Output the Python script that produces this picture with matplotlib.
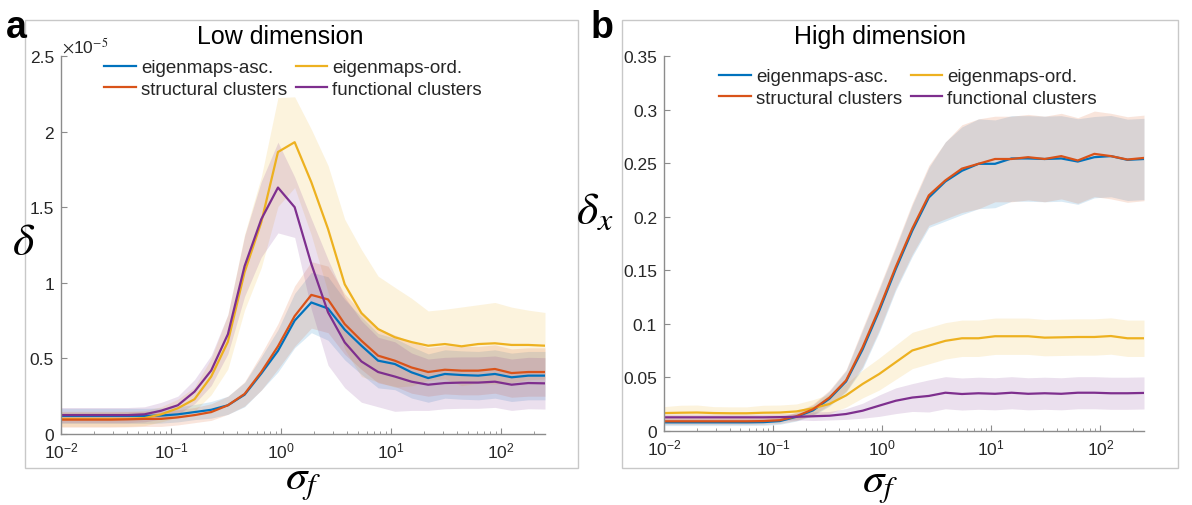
import matplotlib
matplotlib.use("Agg")
import matplotlib.pyplot as plt
from matplotlib.patches import Rectangle
from matplotlib.ticker import LogLocator, NullFormatter, FixedLocator

plt.rcParams['font.family'] = ['Liberation Sans', 'DejaVu Sans']
plt.rcParams['mathtext.fontset'] = 'stix'

# ---------------- data ----------------
sigma_f = [0.01, 0.01418, 0.02011, 0.02852, 0.04045, 0.05736, 0.08134, 0.11535,
           0.16358, 0.23198, 0.32898, 0.46654, 0.66161, 0.93843, 1.3309, 1.8874,
           2.6766, 3.7958, 5.3829, 7.6336, 10.826, 15.353, 21.772, 30.876,
           43.786, 62.094, 88.057, 124.88, 177.09, 251.19]

series_names = ['eigenmaps-asc.', 'eigenmaps-ord.', 'structural clusters', 'functional clusters']
series_colors = ['#0072BD', '#EDB120', '#D95319', '#7E2F8E']

# Panel a (Low dimension), values in units of 1e-5
low_scale_label = r'$\times$10$^{-5}$'
low_asc = [0.12, 0.12, 0.12, 0.12, 0.12, 0.12, 0.122, 0.13, 0.145, 0.16, 0.19, 0.26,
           0.40, 0.55, 0.75, 0.87, 0.83, 0.69, 0.584, 0.485, 0.463, 0.408, 0.37,
           0.397, 0.39, 0.386, 0.397, 0.375, 0.386, 0.386]
low_asc_sd = [0.05, 0.05, 0.05, 0.05, 0.05, 0.05, 0.05, 0.05, 0.05, 0.055, 0.06, 0.08,
              0.11, 0.14, 0.18, 0.20, 0.21, 0.20, 0.19, 0.18, 0.17, 0.17, 0.16,
              0.16, 0.16, 0.16, 0.16, 0.16, 0.16, 0.16]
low_ord = [0.10, 0.10, 0.10, 0.10, 0.10, 0.105, 0.13, 0.17, 0.23, 0.38, 0.61, 1.07,
           1.40, 1.865, 1.93, 1.665, 1.356, 0.99, 0.80, 0.694, 0.64, 0.608, 0.584,
           0.595, 0.58, 0.595, 0.60, 0.589, 0.589, 0.584]
low_ord_sd = [0.05, 0.05, 0.05, 0.05, 0.05, 0.05, 0.05, 0.06, 0.08, 0.12, 0.18, 0.25,
              0.30, 0.36, 0.30, 0.35, 0.42, 0.43, 0.42, 0.35, 0.33, 0.29, 0.23,
              0.23, 0.26, 0.26, 0.27, 0.25, 0.23, 0.22]
low_struct = [0.095, 0.095, 0.095, 0.095, 0.097, 0.10, 0.10, 0.11, 0.125, 0.145, 0.19,
              0.265, 0.41, 0.58, 0.78, 0.92, 0.89, 0.727, 0.617, 0.518, 0.485, 0.44,
              0.41, 0.425, 0.419, 0.419, 0.43, 0.403, 0.41, 0.41]
low_struct_sd = [0.05, 0.05, 0.05, 0.05, 0.05, 0.05, 0.05, 0.05, 0.05, 0.055, 0.06, 0.08,
                 0.12, 0.15, 0.20, 0.22, 0.22, 0.20, 0.19, 0.18, 0.17, 0.17, 0.16,
                 0.16, 0.16, 0.16, 0.16, 0.16, 0.16, 0.16]
low_func = [0.125, 0.125, 0.125, 0.125, 0.125, 0.13, 0.154, 0.19, 0.28, 0.42, 0.66, 1.11,
            1.42, 1.63, 1.50, 1.124, 0.805, 0.606, 0.48, 0.41, 0.38, 0.346, 0.326,
            0.337, 0.34, 0.34, 0.346, 0.326, 0.337, 0.335]
low_func_sd = [0.05, 0.05, 0.05, 0.05, 0.05, 0.05, 0.055, 0.06, 0.08, 0.10, 0.13, 0.20,
               0.25, 0.30, 0.20, 0.30, 0.35, 0.30, 0.27, 0.23, 0.23, 0.19, 0.17,
               0.17, 0.17, 0.17, 0.17, 0.17, 0.17, 0.17]

# Panel b (High dimension)
high_asc = [0.0078, 0.0078, 0.0078, 0.0078, 0.0078, 0.0078, 0.008, 0.009, 0.013, 0.019,
            0.030, 0.046, 0.076, 0.112, 0.151, 0.187, 0.218, 0.233, 0.243, 0.2495,
            0.2495, 0.2545, 0.2545, 0.254, 0.2545, 0.2516, 0.2557, 0.2567, 0.2532, 0.254]
high_asc_sd = [0.003, 0.003, 0.003, 0.003, 0.003, 0.003, 0.003, 0.003, 0.004, 0.005,
               0.007, 0.010, 0.018, 0.020, 0.020, 0.024, 0.028, 0.037, 0.041, 0.042,
               0.041, 0.040, 0.040, 0.040, 0.040, 0.040, 0.038, 0.038, 0.038, 0.038]
high_ord = [0.0165, 0.0168, 0.017, 0.0165, 0.0163, 0.0163, 0.0168, 0.017, 0.018, 0.021,
            0.025, 0.033, 0.0437, 0.053, 0.064, 0.075, 0.0795, 0.084, 0.0864, 0.0864,
            0.0883, 0.0883, 0.0883, 0.087, 0.0873, 0.0876, 0.0876, 0.0885, 0.0864, 0.0864]
high_ord_sd = [0.006, 0.007, 0.007, 0.006, 0.006, 0.006, 0.007, 0.007, 0.007, 0.008,
               0.009, 0.011, 0.013, 0.015, 0.016, 0.017, 0.017, 0.017, 0.017, 0.017,
               0.017, 0.017, 0.017, 0.017, 0.017, 0.017, 0.017, 0.017, 0.017, 0.017]
high_struct = [0.0088, 0.0088, 0.0088, 0.0088, 0.0088, 0.0088, 0.009, 0.0098, 0.0135, 0.020,
               0.031, 0.047, 0.078, 0.114, 0.153, 0.189, 0.220, 0.234, 0.245, 0.2495,
               0.254, 0.254, 0.2557, 0.254, 0.2567, 0.2526, 0.2588, 0.2567, 0.2535, 0.255]
high_struct_sd = [0.003, 0.003, 0.003, 0.003, 0.003, 0.003, 0.003, 0.003, 0.004, 0.005,
                  0.007, 0.010, 0.018, 0.020, 0.020, 0.024, 0.028, 0.036, 0.041, 0.042,
                  0.040, 0.040, 0.040, 0.040, 0.040, 0.040, 0.040, 0.040, 0.040, 0.040]
high_func = [0.0125, 0.0125, 0.0125, 0.0125, 0.0125, 0.0125, 0.0125, 0.0127, 0.013, 0.0135,
             0.014, 0.0156, 0.0187, 0.0234, 0.028, 0.031, 0.0325, 0.0355, 0.0343, 0.035,
             0.0345, 0.0355, 0.0345, 0.035, 0.0345, 0.0355, 0.0355, 0.035, 0.035, 0.0353]
high_func_sd = [0.003, 0.003, 0.003, 0.003, 0.003, 0.003, 0.003, 0.003, 0.003, 0.004,
                0.004, 0.005, 0.007, 0.010, 0.012, 0.013, 0.015, 0.015, 0.015, 0.015,
                0.015, 0.015, 0.015, 0.015, 0.015, 0.015, 0.015, 0.015, 0.015, 0.015]

low_yticks = [0, 0.5, 1, 1.5, 2, 2.5]
low_yticklabels = ['0', '0.5', '1', '1.5', '2', '2.5']
high_yticks = [0, 0.05, 0.1, 0.15, 0.2, 0.25, 0.3, 0.35]
high_yticklabels = ['0', '0.05', '0.1', '0.15', '0.2', '0.25', '0.3', '0.35']
xticks = [0.01, 0.1, 1, 10, 100]

# ---------------- figure ----------------
W, H = 1192, 506
fig = plt.figure(figsize=(W / 100, H / 100), dpi=100)

def fx(px):
    return px / W

def fy(py):
    return 1 - py / H

SPINE = '#8c8c8c'
TXT = '#262626'

def style_axes(ax, yticks, yticklabels, ymax):
    ax.set_xscale('log')
    ax.set_xlim(sigma_f[0], sigma_f[-1])
    ax.set_ylim(0, ymax)
    ax.set_yticks(yticks)
    ax.set_yticklabels(yticklabels)
    ax.xaxis.set_major_locator(FixedLocator(xticks))
    ax.xaxis.set_minor_locator(LogLocator(base=10, subs=range(2, 10), numticks=20))
    ax.xaxis.set_minor_formatter(NullFormatter())
    for s in ['top', 'right']:
        ax.spines[s].set_visible(False)
    for s in ['left', 'bottom']:
        ax.spines[s].set_color(SPINE)
        ax.spines[s].set_linewidth(1.0)
    ax.tick_params(which='major', direction='in', length=4, width=0.8, color=SPINE,
                   labelsize=12.5, labelcolor=TXT, pad=5)
    ax.tick_params(which='minor', direction='in', length=2.2, width=0.6, color=SPINE)
    ax.set_facecolor('none')

def draw_panel(ax, means, sds):
    handles = []
    for m, sd, c in zip(means, sds, series_colors):
        lo = [a - b for a, b in zip(m, sd)]
        hi = [a + b for a, b in zip(m, sd)]
        ax.fill_between(sigma_f, lo, hi, color=c, alpha=0.15, linewidth=0)
    for m, c, n in zip(means, series_colors, series_names):
        h, = ax.plot(sigma_f, m, color=c, lw=1.6, label=n)
        handles.append(h)
    return handles

LEG = dict(ncol=2, loc='upper left', frameon=False, fontsize=13.5, handlelength=1.7,
           handletextpad=0.27, columnspacing=0.45, labelspacing=0.25, borderpad=0,
           borderaxespad=0, labelcolor=TXT)

# panel frames
fig.add_artist(Rectangle((fx(25), fy(469)), fx(578) - fx(25), fy(21) - fy(469),
                         transform=fig.transFigure, fill=False, edgecolor='#c8c8c8', lw=1))
fig.add_artist(Rectangle((fx(622), fy(469)), fx(1178) - fx(622), fy(21) - fy(469),
                         transform=fig.transFigure, fill=False, edgecolor='#c8c8c8', lw=1))

order = [0, 2, 1, 3]

# ---- panel a ----
axa = fig.add_axes([fx(61), fy(435), fx(545) - fx(61), fy(57) - fy(435)])
ha = draw_panel(axa, [low_asc, low_ord, low_struct, low_func],
                [low_asc_sd, low_ord_sd, low_struct_sd, low_func_sd])
style_axes(axa, low_yticks, low_yticklabels, 2.5)
fig.legend([ha[i] for i in order], [series_names[i] for i in order],
           bbox_to_anchor=(fx(104), fy(60)), **LEG)

# ---- panel b ----
axb = fig.add_axes([fx(664), fy(431.7), fx(1144) - fx(664), fy(57.3) - fy(431.7)])
hb = draw_panel(axb, [high_asc, high_ord, high_struct, high_func],
                [high_asc_sd, high_ord_sd, high_struct_sd, high_func_sd])
style_axes(axb, high_yticks, high_yticklabels, 0.35)
fig.legend([hb[i] for i in order], [series_names[i] for i in order],
           bbox_to_anchor=(fx(719), fy(69)), **LEG)

# ---- texts ----
fig.text(fx(6), fy(28), 'a', fontsize=27, fontweight='bold', ha='left', va='center', color='black')
fig.text(fx(591), fy(28), 'b', fontsize=27, fontweight='bold', ha='left', va='center', color='black')
fig.text(fx(280), fy(37), 'Low dimension', fontsize=18, ha='center', va='center', color='black')
fig.text(fx(880), fy(37), 'High dimension', fontsize=18, ha='center', va='center', color='black')
fig.text(fx(62), fy(46), low_scale_label, fontsize=12.5, ha='left', va='center', color=TXT)
fig.text(fx(24), fy(243), r'$\delta$', fontsize=33, ha='center', va='center', color='black')
fig.text(fx(595), fy(212), r'$\delta_x$', fontsize=33, ha='center', va='center', color='black')
fig.text(fx(303), fy(483), r'$\sigma_f$', fontsize=31, ha='center', va='center', color='black')
fig.text(fx(880), fy(486), r'$\sigma_f$', fontsize=31, ha='center', va='center', color='black')

fig.savefig('out.png', dpi=100, facecolor='white')
